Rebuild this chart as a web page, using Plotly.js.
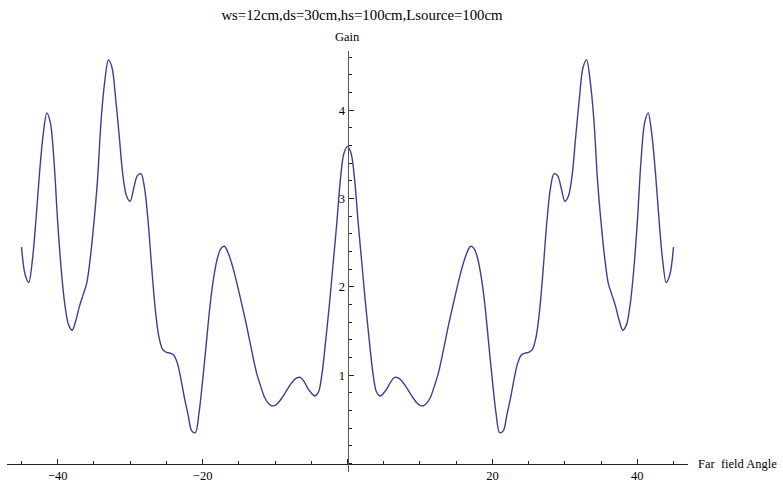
<!DOCTYPE html>
<html>
<head>
<meta charset="utf-8">
<script src="https://cdn.plot.ly/plotly-3.0.1.min.js"></script>
<style>
  html, body { margin: 0; padding: 0; background: #fff; }
  #chart { width: 783px; height: 484px; }
</style>
</head>
<body>
<div id="chart"></div>
<script>
// Far-field angle (degrees), sampled every half degree
const angle = [
  -45, -44.5, -44, -43.5, -43, -42.5, -42, -41.5, -41, -40.5,
  -40, -39.5, -39, -38.5, -38, -37.5, -37, -36.5, -36, -35.5,
  -35, -34.5, -34, -33.5, -33, -32.5, -32, -31.5, -31, -30.5,
  -30, -29.5, -29, -28.5, -28, -27.5, -27, -26.5, -26, -25.5,
  -25, -24.5, -24, -23.5, -23, -22.5, -22, -21.5, -21, -20.5,
  -20, -19.5, -19, -18.5, -18, -17.5, -17, -16.5, -16, -15.5,
  -15, -14.5, -14, -13.5, -13, -12.5, -12, -11.5, -11, -10.5,
  -10, -9.5, -9, -8.5, -8, -7.5, -7, -6.5, -6, -5.5,
  -5, -4.5, -4, -3.5, -3, -2.5, -2, -1.5, -1, -0.5,
  0,
  0.5, 1, 1.5, 2, 2.5, 3, 3.5, 4, 4.5, 5,
  5.5, 6, 6.5, 7, 7.5, 8, 8.5, 9, 9.5, 10,
  10.5, 11, 11.5, 12, 12.5, 13, 13.5, 14, 14.5, 15,
  15.5, 16, 16.5, 17, 17.5, 18, 18.5, 19, 19.5, 20,
  20.5, 21, 21.5, 22, 22.5, 23, 23.5, 24, 24.5, 25,
  25.5, 26, 26.5, 27, 27.5, 28, 28.5, 29, 29.5, 30,
  30.5, 31, 31.5, 32, 32.5, 33, 33.5, 34, 34.5, 35,
  35.5, 36, 36.5, 37, 37.5, 38, 38.5, 39, 39.5, 40,
  40.5, 41, 41.5, 42, 42.5, 43, 43.5, 44, 44.5, 45
];

// Gain at each angle
const gain = [
  2.45, 2.14, 2.05, 2.30, 2.76, 3.30, 3.73, 3.97, 3.85, 3.41,
  2.73, 2.18, 1.79, 1.57, 1.51, 1.62, 1.78, 1.91, 2.04, 2.33,
  2.73, 3.22, 3.90, 4.33, 4.57, 4.48, 4.13, 3.70, 3.26, 3.03,
  2.97, 3.12, 3.26, 3.28, 3.11, 2.72, 2.19, 1.72, 1.42, 1.29,
  1.26, 1.25, 1.23, 1.14, 0.96, 0.74, 0.55, 0.37, 0.35, 0.57,
  0.94, 1.35, 1.77, 2.09, 2.31, 2.43, 2.46, 2.39, 2.27, 2.12,
  1.95, 1.77, 1.59, 1.39, 1.19, 1.01, 0.88, 0.76, 0.69, 0.655,
  0.66, 0.695, 0.75, 0.815, 0.88, 0.935, 0.97, 0.975, 0.93, 0.855,
  0.80, 0.765, 0.81, 1.03, 1.40, 1.80, 2.25, 2.70, 3.20, 3.51,
  3.59,
  3.51, 3.20, 2.70, 2.25, 1.80, 1.40, 1.03, 0.81, 0.765, 0.80,
  0.855, 0.93, 0.975, 0.97, 0.935, 0.88, 0.815, 0.75, 0.695, 0.66,
  0.655, 0.69, 0.76, 0.88, 1.01, 1.19, 1.39, 1.59, 1.77, 1.95,
  2.12, 2.27, 2.39, 2.46, 2.43, 2.31, 2.09, 1.77, 1.35, 0.94,
  0.57, 0.35, 0.37, 0.55, 0.74, 0.96, 1.14, 1.23, 1.25, 1.26,
  1.29, 1.42, 1.72, 2.19, 2.72, 3.11, 3.28, 3.26, 3.12, 2.97,
  3.03, 3.26, 3.70, 4.13, 4.48, 4.57, 4.33, 3.90, 3.22, 2.73,
  2.33, 2.04, 1.91, 1.78, 1.62, 1.51, 1.57, 1.79, 2.18, 2.73,
  3.41, 3.85, 3.97, 3.73, 3.30, 2.76, 2.30, 2.05, 2.14, 2.45
];

// Axis tick labels
const xTickVals = [-40, -20, 0, 20, 40];
const xTickText = ['\u221240', '\u221220', '', '20', '40'];
const yTickVals = [1, 2, 3, 4];
const yTickText = ['1', '2', '3', '4'];

const titleText = 'ws=12cm,ds=30cm,hs=100cm,Lsource=100cm';
const xLabel = 'Far\u00a0 field Angle';
const yLabel = 'Gain';

const serif = 'Liberation Serif, Times New Roman, serif';
const xRange = [-47, 47];
const yRange = [-0.095, 4.67];

const trace = {
  x: angle,
  y: gain,
  type: 'scatter',
  mode: 'lines',
  line: { color: '#3d3d99', width: 1.4, shape: 'spline', smoothing: 0.9 },
  hoverinfo: 'x+y'
};

const layout = {
  width: 783,
  height: 484,
  margin: { l: 7, r: 95, t: 51, b: 12, pad: 0 },
  paper_bgcolor: '#ffffff',
  plot_bgcolor: '#ffffff',
  showlegend: false,
  title: {
    text: titleText,
    x: 362 / 783,
    xanchor: 'center',
    y: 1 - 15 / 484,
    yanchor: 'middle',
    font: { family: serif, size: 14.8, color: '#000' }
  },
  xaxis: {
    range: xRange,
    anchor: 'free',
    position: (0 - yRange[0]) / (yRange[1] - yRange[0]),
    showgrid: false,
    zeroline: false,
    showline: true,
    linecolor: '#222',
    linewidth: 1,
    tickmode: 'array',
    tickvals: xTickVals,
    ticktext: xTickText,
    ticks: 'inside',
    ticklen: 5,
    tickwidth: 1,
    tickcolor: '#222',
    minor: { ticks: 'inside', dtick: 5, tick0: 0, ticklen: 3, tickwidth: 1, tickcolor: '#222' },
    tickfont: { family: serif, size: 12.5, color: '#000' },
    automargin: false,
    fixedrange: true
  },
  yaxis: {
    range: yRange,
    anchor: 'free',
    position: (0 - xRange[0]) / (xRange[1] - xRange[0]),
    showgrid: false,
    zeroline: false,
    showline: true,
    linecolor: '#555',
    linewidth: 1.3,
    tickmode: 'array',
    tickvals: yTickVals,
    ticktext: yTickText,
    ticks: 'inside',
    ticklen: 5,
    tickwidth: 1,
    tickcolor: '#222',
    minor: { ticks: 'inside', dtick: 0.2, tick0: 0, ticklen: 3, tickwidth: 1, tickcolor: '#222' },
    tickfont: { family: serif, size: 12.5, color: '#000' },
    automargin: false,
    fixedrange: true
  },
  annotations: [
    {
      text: yLabel,
      xref: 'x', x: 0,
      yref: 'paper', y: 1,
      xanchor: 'center', yanchor: 'bottom',
      yshift: 5,
      showarrow: false,
      font: { family: serif, size: 12.5, color: '#000' }
    },
    {
      text: xLabel,
      xref: 'paper', x: 1,
      yref: 'y', y: 0,
      xanchor: 'left', yanchor: 'middle',
      xshift: 8,
      showarrow: false,
      font: { family: serif, size: 12.5, color: '#000' }
    }
  ]
};

Plotly.newPlot('chart', [trace], layout, { displayModeBar: false, staticPlot: true });
</script>
</body>
</html>
